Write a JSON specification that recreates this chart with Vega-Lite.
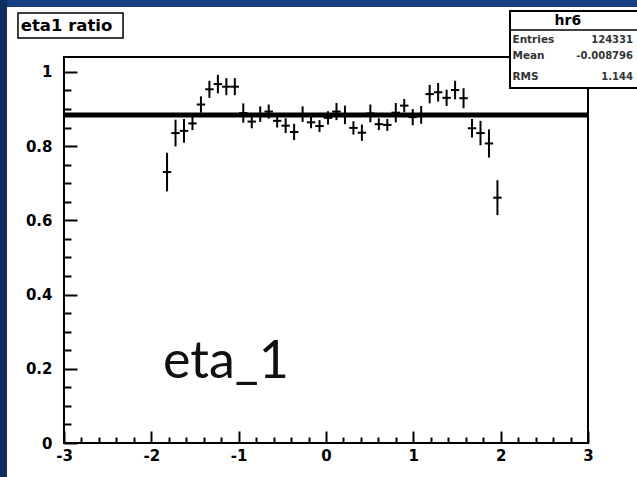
{
  "$schema": "https://vega.github.io/schema/vega-lite/v6.json",
  "width": 524,
  "height": 386,
  "autosize": "none",
  "padding": {"left": 64, "top": 57, "right": 49, "bottom": 34},
  "background": "white",
  "config": {
    "view": {"stroke": "black", "strokeWidth": 2},
    "axis": {"grid": false, "domain": false, "title": null, "tickColor": "black", "labelColor": "black",
             "labelFont": "DejaVu Sans", "labelFontWeight": "bold", "labelFontSize": 15,
             "labelFlush": false, "labelOverlap": false, "labelBound": false}
  },
  "datasets": {
    "ratio": [
      {"eta": -1.820, "ratio": 0.730, "err": 0.052, "half": 0.0485},
      {"eta": -1.723, "ratio": 0.835, "err": 0.036, "half": 0.0485},
      {"eta": -1.626, "ratio": 0.841, "err": 0.032, "half": 0.0485},
      {"eta": -1.529, "ratio": 0.861, "err": 0.018, "half": 0.0485},
      {"eta": -1.432, "ratio": 0.912, "err": 0.022, "half": 0.0485},
      {"eta": -1.335, "ratio": 0.953, "err": 0.023, "half": 0.0485},
      {"eta": -1.238, "ratio": 0.967, "err": 0.025, "half": 0.0485},
      {"eta": -1.141, "ratio": 0.960, "err": 0.023, "half": 0.0485},
      {"eta": -1.044, "ratio": 0.960, "err": 0.023, "half": 0.0485},
      {"eta": -0.947, "ratio": 0.889, "err": 0.026, "half": 0.0485},
      {"eta": -0.850, "ratio": 0.866, "err": 0.018, "half": 0.0485},
      {"eta": -0.753, "ratio": 0.886, "err": 0.021, "half": 0.0485},
      {"eta": -0.656, "ratio": 0.893, "err": 0.019, "half": 0.0485},
      {"eta": -0.559, "ratio": 0.868, "err": 0.018, "half": 0.0485},
      {"eta": -0.462, "ratio": 0.855, "err": 0.020, "half": 0.0485},
      {"eta": -0.365, "ratio": 0.838, "err": 0.022, "half": 0.0485},
      {"eta": -0.268, "ratio": 0.886, "err": 0.021, "half": 0.0485},
      {"eta": -0.171, "ratio": 0.864, "err": 0.016, "half": 0.0485},
      {"eta": -0.074, "ratio": 0.854, "err": 0.016, "half": 0.0485},
      {"eta": 0.023, "ratio": 0.876, "err": 0.018, "half": 0.0485},
      {"eta": 0.120, "ratio": 0.893, "err": 0.023, "half": 0.0485},
      {"eta": 0.217, "ratio": 0.884, "err": 0.025, "half": 0.0485},
      {"eta": 0.314, "ratio": 0.849, "err": 0.018, "half": 0.0485},
      {"eta": 0.411, "ratio": 0.836, "err": 0.022, "half": 0.0485},
      {"eta": 0.508, "ratio": 0.888, "err": 0.024, "half": 0.0485},
      {"eta": 0.605, "ratio": 0.859, "err": 0.016, "half": 0.0485},
      {"eta": 0.702, "ratio": 0.857, "err": 0.016, "half": 0.0485},
      {"eta": 0.799, "ratio": 0.890, "err": 0.026, "half": 0.0485},
      {"eta": 0.896, "ratio": 0.909, "err": 0.018, "half": 0.0485},
      {"eta": 0.993, "ratio": 0.878, "err": 0.022, "half": 0.0485},
      {"eta": 1.090, "ratio": 0.884, "err": 0.024, "half": 0.0485},
      {"eta": 1.187, "ratio": 0.940, "err": 0.025, "half": 0.0485},
      {"eta": 1.284, "ratio": 0.945, "err": 0.025, "half": 0.0485},
      {"eta": 1.381, "ratio": 0.930, "err": 0.022, "half": 0.0485},
      {"eta": 1.478, "ratio": 0.951, "err": 0.025, "half": 0.0485},
      {"eta": 1.575, "ratio": 0.929, "err": 0.027, "half": 0.0485},
      {"eta": 1.672, "ratio": 0.848, "err": 0.025, "half": 0.0485},
      {"eta": 1.769, "ratio": 0.835, "err": 0.033, "half": 0.0485},
      {"eta": 1.866, "ratio": 0.807, "err": 0.038, "half": 0.0485},
      {"eta": 1.963, "ratio": 0.661, "err": 0.047, "half": 0.0485}
    ]
  },
  "layer": [
    {
      "data": {"values": [{}]},
      "mark": {"type": "rect", "color": "#163f80"},
      "encoding": {
        "x": {"datum": -3.8, "type": "quantitative", "scale": {"domain": [-3, 3], "nice": false, "zero": false}, "axis": null},
        "x2": {"datum": 3.8},
        "y": {"datum": 1.175, "type": "quantitative", "scale": {"domain": [0, 1.04], "nice": false, "zero": false}, "axis": null},
        "y2": {"datum": 1.3}
      }
    },
    {
      "data": {"values": [{}]},
      "mark": {"type": "rect", "color": "#0e2e62"},
      "encoding": {
        "x": {"datum": -3.8, "type": "quantitative", "scale": {"domain": [-3, 3], "nice": false, "zero": false}, "axis": null},
        "x2": {"datum": -3.653},
        "y": {"datum": -0.2, "type": "quantitative", "scale": {"domain": [0, 1.04], "nice": false, "zero": false}, "axis": null},
        "y2": {"datum": 1.3}
      }
    },
    {
      "data": {"values": [{}]},
      "mark": {"type": "rect", "fill": "white", "stroke": "black", "strokeWidth": 1.5},
      "encoding": {
        "x": {"datum": -3.527, "type": "quantitative", "scale": {"domain": [-3, 3], "nice": false, "zero": false}, "axis": null},
        "x2": {"datum": -2.324},
        "y": {"datum": 1.0912, "type": "quantitative", "scale": {"domain": [0, 1.04], "nice": false, "zero": false}, "axis": null},
        "y2": {"datum": 1.1586}
      }
    },
    {
      "data": {"values": [{}]},
      "mark": {"type": "text", "text": "eta1 ratio", "align": "left", "baseline": "middle", "font": "DejaVu Sans", "fontWeight": "bold", "fontSize": 16.5, "color": "black"},
      "encoding": {
        "x": {"datum": -3.495, "type": "quantitative", "scale": {"domain": [-3, 3], "nice": false, "zero": false}, "axis": null},
        "y": {"datum": 1.1245, "type": "quantitative", "scale": {"domain": [0, 1.04], "nice": false, "zero": false}, "axis": null}
      }
    },
    {
      "data": {"values": [{}]},
      "mark": {"type": "rect", "fill": "white", "stroke": "black", "strokeWidth": 2},
      "encoding": {
        "x": {"datum": 2.107, "type": "quantitative", "scale": {"domain": [-3, 3], "nice": false, "zero": false}, "axis": null},
        "x2": {"datum": 3.75},
        "y": {"datum": 0.9565, "type": "quantitative", "scale": {"domain": [0, 1.04], "nice": false, "zero": false}, "axis": null},
        "y2": {"datum": 1.164}
      }
    },
    {
      "data": {"values": [{}]},
      "mark": {"type": "rule", "color": "black", "strokeWidth": 1.5},
      "encoding": {
        "x": {"datum": 2.107, "type": "quantitative", "scale": {"domain": [-3, 3], "nice": false, "zero": false}, "axis": null},
        "x2": {"datum": 3.75},
        "y": {"datum": 1.1128, "type": "quantitative", "scale": {"domain": [0, 1.04], "nice": false, "zero": false}, "axis": null}
      }
    },
    {
      "data": {"values": [{}]},
      "mark": {"type": "text", "text": "hr6", "align": "center", "baseline": "middle", "font": "DejaVu Sans", "fontWeight": "bold", "fontSize": 14, "color": "black"},
      "encoding": {
        "x": {"datum": 2.77, "type": "quantitative", "scale": {"domain": [-3, 3], "nice": false, "zero": false}, "axis": null},
        "y": {"datum": 1.138, "type": "quantitative", "scale": {"domain": [0, 1.04], "nice": false, "zero": false}, "axis": null}
      }
    },
    {
      "data": {"values": [{}]},
      "mark": {"type": "text", "text": "Entries", "align": "left", "baseline": "middle", "font": "DejaVu Sans", "fontWeight": "bold", "fontSize": 10.5, "color": "#333"},
      "encoding": {
        "x": {"datum": 2.135, "type": "quantitative", "scale": {"domain": [-3, 3], "nice": false, "zero": false}, "axis": null},
        "y": {"datum": 1.0858, "type": "quantitative", "scale": {"domain": [0, 1.04], "nice": false, "zero": false}, "axis": null}
      }
    },
    {
      "data": {"values": [{}]},
      "mark": {"type": "text", "text": "Mean", "align": "left", "baseline": "middle", "font": "DejaVu Sans", "fontWeight": "bold", "fontSize": 10.5, "color": "#333"},
      "encoding": {
        "x": {"datum": 2.135, "type": "quantitative", "scale": {"domain": [-3, 3], "nice": false, "zero": false}, "axis": null},
        "y": {"datum": 1.0427, "type": "quantitative", "scale": {"domain": [0, 1.04], "nice": false, "zero": false}, "axis": null}
      }
    },
    {
      "data": {"values": [{}]},
      "mark": {"type": "text", "text": "RMS", "align": "left", "baseline": "middle", "font": "DejaVu Sans", "fontWeight": "bold", "fontSize": 10.5, "color": "#333"},
      "encoding": {
        "x": {"datum": 2.135, "type": "quantitative", "scale": {"domain": [-3, 3], "nice": false, "zero": false}, "axis": null},
        "y": {"datum": 0.9861, "type": "quantitative", "scale": {"domain": [0, 1.04], "nice": false, "zero": false}, "axis": null}
      }
    },
    {
      "data": {"values": [{}]},
      "mark": {"type": "text", "text": "124331", "align": "right", "baseline": "middle", "font": "DejaVu Sans", "fontWeight": "bold", "fontSize": 10, "color": "#333"},
      "encoding": {
        "x": {"datum": 3.515, "type": "quantitative", "scale": {"domain": [-3, 3], "nice": false, "zero": false}, "axis": null},
        "y": {"datum": 1.0858, "type": "quantitative", "scale": {"domain": [0, 1.04], "nice": false, "zero": false}, "axis": null}
      }
    },
    {
      "data": {"values": [{}]},
      "mark": {"type": "text", "text": "-0.008796", "align": "right", "baseline": "middle", "font": "DejaVu Sans", "fontWeight": "bold", "fontSize": 10, "color": "#333"},
      "encoding": {
        "x": {"datum": 3.515, "type": "quantitative", "scale": {"domain": [-3, 3], "nice": false, "zero": false}, "axis": null},
        "y": {"datum": 1.0427, "type": "quantitative", "scale": {"domain": [0, 1.04], "nice": false, "zero": false}, "axis": null}
      }
    },
    {
      "data": {"values": [{}]},
      "mark": {"type": "text", "text": "1.144", "align": "right", "baseline": "middle", "font": "DejaVu Sans", "fontWeight": "bold", "fontSize": 10, "color": "#333"},
      "encoding": {
        "x": {"datum": 3.515, "type": "quantitative", "scale": {"domain": [-3, 3], "nice": false, "zero": false}, "axis": null},
        "y": {"datum": 0.9861, "type": "quantitative", "scale": {"domain": [0, 1.04], "nice": false, "zero": false}, "axis": null}
      }
    },
    {
      "data": {"name": "ratio"},
      "mark": {"type": "errorbar", "color": "black", "thickness": 2},
      "encoding": {
        "x": {"field": "eta", "type": "quantitative", "scale": {"domain": [-3, 3], "nice": false, "zero": false},
              "axis": {"orient": "bottom", "title": null, "values": [-2.8, -2.6, -2.4, -2.2, -1.8, -1.6, -1.4, -1.2, -0.8, -0.6, -0.4, -0.2, 0.2, 0.4, 0.6, 0.8, 1.2, 1.4, 1.6, 1.8, 2.2, 2.4, 2.6, 2.8],
                       "labels": false, "tickSize": -6, "tickWidth": 2}},
        "y": {"field": "ratio", "type": "quantitative", "scale": {"domain": [0, 1.04], "nice": false, "zero": false},
              "axis": {"orient": "left", "title": null, "values": [0.05, 0.1, 0.15, 0.25, 0.3, 0.35, 0.45, 0.5, 0.55, 0.65, 0.7, 0.75, 0.85, 0.9, 0.95],
                       "labels": false, "tickSize": -7, "tickWidth": 2}},
        "xError": {"field": "half"}
      }
    },
    {
      "data": {"name": "ratio"},
      "mark": {"type": "errorbar", "color": "black", "thickness": 2},
      "encoding": {
        "x": {"field": "eta", "type": "quantitative", "scale": {"domain": [-3, 3], "nice": false, "zero": false},
              "axis": {"orient": "bottom", "title": null, "values": [-3, -2, -1, 0, 1, 2, 3],
                       "labelExpr": "datum.value < 0 ? '-' + (-datum.value) : '' + datum.value",
                       "tickSize": -12, "tickWidth": 2, "labelPadding": 17}},
        "y": {"field": "ratio", "type": "quantitative", "scale": {"domain": [0, 1.04], "nice": false, "zero": false},
              "axis": {"orient": "left", "title": null, "values": [0, 0.2, 0.4, 0.6, 0.8, 1],
                       "labelExpr": "'' + datum.value",
                       "tickSize": -13, "tickWidth": 2, "labelPadding": 25}},
        "yError": {"field": "err"}
      }
    },
    {
      "data": {"values": [{}]},
      "mark": {"type": "rule", "color": "black", "strokeWidth": 5},
      "encoding": {
        "y": {"datum": 0.884, "type": "quantitative", "scale": {"domain": [0, 1.04], "nice": false, "zero": false}, "axis": null}
      }
    },
    {
      "data": {"values": [{}]},
      "mark": {"type": "text", "text": "eta_1", "align": "left", "baseline": "alphabetic", "font": "Lato", "fontSize": 52, "color": "#111"},
      "encoding": {
        "x": {"datum": -1.866, "type": "quantitative", "scale": {"domain": [-3, 3], "nice": false, "zero": false}, "axis": null},
        "y": {"datum": 0.175, "type": "quantitative", "scale": {"domain": [0, 1.04], "nice": false, "zero": false}, "axis": null}
      }
    }
  ],
  "resolve": {"axis": {"x": "independent", "y": "independent"}}
}
